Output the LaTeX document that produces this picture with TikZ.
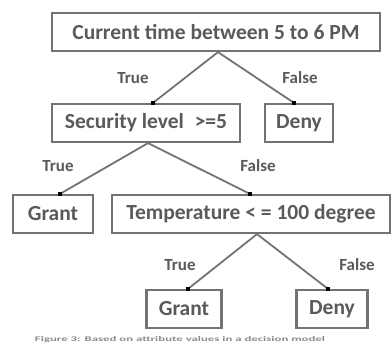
\documentclass[tikz,border=0pt]{standalone}
\usepackage{fontspec}
\setmainfont{Carlito}
\usetikzlibrary{positioning}
\definecolor{boxline}{RGB}{115,115,115}
\definecolor{txt}{RGB}{90,90,90}
\definecolor{captxt}{RGB}{140,140,140}
\tikzset{
  dbox/.style={draw=boxline, line width=2.2pt, fill=white, inner sep=0pt, text=txt,
    font=\fontsize{21.5}{23}\selectfont\bfseries, minimum height=38pt},
  lbl/.style={text=txt, font=\fontsize{17}{19}\selectfont\bfseries, inner sep=0pt},
  conn/.style={draw=boxline, line width=1.8pt},
  enddot/.style={rectangle, fill=black, inner sep=0pt, minimum size=4.5pt}
}
\begin{document}
\begin{tikzpicture}[x=1pt,y=-1pt]
\useasboundingbox[fill=white] (0,0) rectangle (391,362);
\node[dbox, minimum width=328pt] (top) at (216,32) {Current time between 5 to 6 PM};
\node[dbox, minimum width=188pt] (sec) at (146,123) {Security level \;>=5};
\node[dbox, minimum width=68pt] (deny1) at (299,123) {Deny};
\node[dbox, minimum width=80pt] (grant1) at (53,214) {Grant};
\node[dbox, minimum width=278pt] (temp) at (251,214) {Temperature < = 100 degree};
\node[dbox, minimum width=75pt] (grant2) at (184,309) {Grant};
\node[dbox, minimum width=71pt] (deny2) at (332,309) {Deny};

\coordinate (a1) at ([xshift=7pt]sec.north);
\coordinate (a2) at ([xshift=-5pt]deny1.north);
\coordinate (b0) at ([xshift=2pt]sec.south);
\coordinate (b1) at ([xshift=7pt]grant1.north);
\coordinate (b2) at ([xshift=-1pt]temp.north);
\coordinate (c0) at ([xshift=6pt]temp.south);
\coordinate (c1) at ([xshift=4pt]grant2.north);
\coordinate (c2) at ([xshift=-4pt]deny2.north);

\draw[conn] ([xshift=2pt]top.south) -- (a1);
\draw[conn] ([xshift=2pt]top.south) -- (a2);
\draw[conn] (b0) -- (b1);
\draw[conn] (b0) -- (b2);
\draw[conn] (c0) -- (c1);
\draw[conn] (c0) -- (c2);

\node[enddot] (d1) at (a1) {};
\node[enddot] (d2) at (a2) {};
\node[enddot] (d3) at (b1) {};
\node[enddot] (d4) at (b2) {};
\node[enddot] (d5) at (c1) {};
\node[enddot] (d6) at (c2) {};

\node[lbl] (t1) at (133,78) {True};
\node[lbl] (f1) at (300,78) {False};
\node[lbl] (t2) at (58,166) {True};
\node[lbl] (f2) at (258,166) {False};
\node[lbl] (t3) at (180,265) {True};
\node[lbl] (f3) at (357,265) {False};

\node[text=captxt, inner sep=0pt] (cap) at (180,340)
  {\resizebox{290pt}{5pt}{\bfseries Figure 3: Based on attribute values in a decision model}};
\end{tikzpicture}
\end{document}
